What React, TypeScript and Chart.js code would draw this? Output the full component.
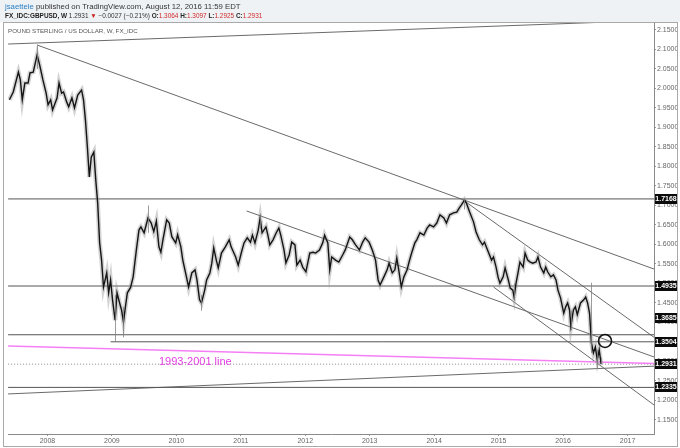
import React, { useEffect, useRef } from "react";
import { Chart, registerables } from "chart.js";
Chart.register(...registerables);

// Weekly GBPUSD closes (sampled), decimal year → price
const priceYears = [
  2007.41, 2007.47, 2007.55, 2007.58, 2007.61, 2007.65, 2007.70, 2007.73, 2007.78, 2007.84,
  2007.88, 2007.93, 2007.98, 2008.01, 2008.05, 2008.08, 2008.15, 2008.18, 2008.22, 2008.25,
  2008.30, 2008.33, 2008.38, 2008.42, 2008.47, 2008.53, 2008.56, 2008.59, 2008.62, 2008.65,
  2008.68, 2008.72, 2008.75, 2008.78, 2008.81, 2008.84, 2008.87, 2008.92, 2008.95, 2008.98,
  2009.01, 2009.05, 2009.08, 2009.12, 2009.15, 2009.18, 2009.21, 2009.24, 2009.29, 2009.33,
  2009.38, 2009.42, 2009.45, 2009.50, 2009.56, 2009.61, 2009.65, 2009.69, 2009.73, 2009.76,
  2009.79, 2009.85, 2009.89, 2009.93, 2009.99, 2010.02, 2010.07, 2010.10, 2010.15, 2010.19,
  2010.24, 2010.29, 2010.32, 2010.36, 2010.39, 2010.44, 2010.47, 2010.52, 2010.55, 2010.58,
  2010.62, 2010.65, 2010.70, 2010.76, 2010.82, 2010.85, 2010.92, 2010.96, 2011.01, 2011.05,
  2011.10, 2011.15, 2011.18, 2011.22, 2011.27, 2011.30, 2011.33, 2011.39, 2011.42, 2011.45,
  2011.50, 2011.55, 2011.59, 2011.62, 2011.67, 2011.70, 2011.75, 2011.79, 2011.84, 2011.87,
  2011.92, 2011.96, 2012.01, 2012.07, 2012.12, 2012.16, 2012.22, 2012.27, 2012.30, 2012.35,
  2012.38, 2012.41, 2012.47, 2012.52, 2012.58, 2012.62, 2012.69, 2012.73, 2012.78, 2012.84,
  2012.89, 2012.93, 2012.99, 2013.04, 2013.09, 2013.13, 2013.16, 2013.22, 2013.27, 2013.30,
  2013.35, 2013.39, 2013.42, 2013.45, 2013.49, 2013.53, 2013.58, 2013.61, 2013.65, 2013.70,
  2013.73, 2013.78, 2013.84, 2013.89, 2013.93, 2013.99, 2014.04, 2014.09, 2014.15, 2014.19,
  2014.24, 2014.30, 2014.35, 2014.39, 2014.42, 2014.47, 2014.50, 2014.55, 2014.61, 2014.65,
  2014.70, 2014.75, 2014.78, 2014.84, 2014.89, 2014.92, 2014.96, 2014.99, 2015.02, 2015.07,
  2015.10, 2015.15, 2015.18, 2015.22, 2015.24, 2015.27, 2015.30, 2015.33, 2015.38, 2015.41,
  2015.45, 2015.49, 2015.53, 2015.58, 2015.61, 2015.65, 2015.70, 2015.73, 2015.76, 2015.81,
  2015.85, 2015.89, 2015.92, 2015.96, 2016.01, 2016.04, 2016.07, 2016.10, 2016.12, 2016.16,
  2016.19, 2016.22, 2016.27, 2016.32, 2016.35, 2016.38, 2016.41, 2016.44, 2016.47, 2016.50,
  2016.53, 2016.56, 2016.59,
];
const priceCloses = [
  1.971, 1.991, 2.042, 2.022, 1.971, 2.014, 2.014, 2.040, 2.042, 2.086,
  2.060, 2.022, 1.988, 1.958, 1.971, 1.945, 1.976, 2.014, 1.988, 1.991,
  1.965, 1.953, 1.976, 1.950, 1.983, 1.996, 1.971, 1.919, 1.850, 1.773,
  1.824, 1.837, 1.765, 1.706, 1.604, 1.560, 1.491, 1.527, 1.476, 1.509,
  1.458, 1.406, 1.476, 1.450, 1.432, 1.401, 1.440, 1.476, 1.490, 1.517,
  1.586, 1.637, 1.645, 1.630, 1.668, 1.655, 1.633, 1.660, 1.594, 1.580,
  1.610, 1.663, 1.655, 1.620, 1.604, 1.625, 1.594, 1.560, 1.522, 1.491,
  1.527, 1.535, 1.509, 1.458, 1.450, 1.483, 1.509, 1.527, 1.552, 1.591,
  1.560, 1.540, 1.578, 1.594, 1.612, 1.594, 1.568, 1.547, 1.580, 1.604,
  1.617, 1.606, 1.624, 1.604, 1.637, 1.668, 1.630, 1.645, 1.624, 1.599,
  1.612, 1.630, 1.642, 1.624, 1.586, 1.553, 1.573, 1.606, 1.599, 1.547,
  1.560, 1.542, 1.530, 1.578, 1.580, 1.578, 1.586, 1.604, 1.624, 1.604,
  1.535, 1.568, 1.560, 1.555, 1.573, 1.586, 1.619, 1.612, 1.599, 1.586,
  1.606, 1.617, 1.606, 1.586, 1.560, 1.509, 1.496, 1.517, 1.535, 1.552,
  1.527, 1.535, 1.565, 1.535, 1.491, 1.517, 1.535, 1.555, 1.578, 1.604,
  1.612, 1.630, 1.624, 1.642, 1.650, 1.645, 1.655, 1.676, 1.668, 1.655,
  1.676, 1.681, 1.683, 1.694, 1.701, 1.714, 1.706, 1.683, 1.658, 1.632,
  1.612, 1.599, 1.606, 1.581, 1.560, 1.568, 1.542, 1.517, 1.501, 1.517,
  1.540, 1.509, 1.488, 1.483, 1.465, 1.501, 1.527, 1.555, 1.542, 1.578,
  1.560, 1.555, 1.552, 1.555, 1.568, 1.542, 1.527, 1.542, 1.530, 1.517,
  1.522, 1.509, 1.483, 1.463, 1.424, 1.440, 1.450, 1.432, 1.390, 1.432,
  1.440, 1.420, 1.450, 1.458, 1.465, 1.450, 1.424, 1.347, 1.322, 1.337,
  1.304, 1.330, 1.293,
];

// Notable candle wicks
const wickYears = [2007.84, 2009.05, 2009.18, 2009.56, 2010.39, 2011.30, 2014.47, 2015.24, 2016.12, 2016.44, 2016.53, 2016.59];
const wickLows = [2.05, 1.352, 1.362, 1.63, 1.43, 1.64, 1.69, 1.458, 1.38, 1.322, 1.283, 1.2925];
const wickHighs = [2.112, 1.47, 1.44, 1.70, 1.47, 1.675, 1.7168, 1.50, 1.43, 1.502, 1.33, 1.3097];

// Axis ticks
const yearTicks = [2008, 2009, 2010, 2011, 2012, 2013, 2014, 2015, 2016, 2017];
const priceTicks = [1.15, 1.2, 1.25, 1.3, 1.35, 1.4, 1.45, 1.5, 1.55, 1.6, 1.65, 1.7, 1.75, 1.8, 1.85, 1.9, 1.95, 2.0, 2.05, 2.1, 2.15];

// Horizontal levels
const levelValues = [1.7168, 1.4935, 1.3685, 1.3504, 1.2931, 1.2335];
const levelStartYears = [2007.39, 2007.39, 2007.39, 2008.98, 2007.39, 2007.39];
const levelLabels = ["1.7168", "1.4935", "1.3685", "1.3504", "1.2931", "1.2335"];

// Trend lines (start/end)
const trendX1 = [2007.39, 2007.84, 2014.45, 2011.09, 2014.92, 2007.39];
const trendY1 = [2.114, 2.1115, 1.714, 1.686, 1.491, 1.2167];
const trendX2 = [2016.55, 2017.41, 2017.41, 2017.41, 2017.41, 2017.41];
const trendY2 = [2.1695, 1.537, 1.362, 1.3115, 1.1885, 1.288];

// 1993-2001 line
const pinkX = [2007.39, 2017.41];
const pinkY = [1.3397, 1.295];
const pinkLabel = "1993-2001 line";
const pinkLabelYear = 2009.73;
const pinkLabelPrice = 1.2987;

// Marked circle
const circleYear = 2016.65;
const circlePrice = 1.3526;

const X_MIN = 2007.39;
const X_MAX = 2017.41;
const Y_MIN = 1.114;
const Y_MAX = 2.1705;

const FONT = "'Liberation Sans', Arial, sans-serif";

function drawRuns(ctx: CanvasRenderingContext2D, runs: { t: string; c: string; b?: boolean }[], x: number, y: number, size: number) {
  let cx = x;
  for (const r of runs) {
    ctx.font = `${r.b ? "bold " : ""}${size}px ${FONT}`;
    ctx.fillStyle = r.c;
    ctx.fillText(r.t, cx, y);
    cx += ctx.measureText(r.t).width;
  }
}
function runsWidth(ctx: CanvasRenderingContext2D, runs: { t: string; c: string; b?: boolean }[], size: number) {
  let w = 0;
  for (const r of runs) {
    ctx.font = `${r.b ? "bold " : ""}${size}px ${FONT}`;
    w += ctx.measureText(r.t).width;
  }
  return w;
}

const decorPlugin = {
  id: "decor",
  beforeDraw(chart: any) {
    const ctx = chart.ctx as CanvasRenderingContext2D;
    ctx.save();
    ctx.fillStyle = "#ffffff";
    ctx.fillRect(0, 0, chart.width, chart.height);
    ctx.fillStyle = "#eff2f5";
    ctx.fillRect(0, 0, chart.width, 22);
    ctx.restore();
  },
  afterDatasetsDraw(chart: any) {
    const ctx = chart.ctx as CanvasRenderingContext2D;
    const xs = chart.scales.x;
    const ys = chart.scales.y;
    const ca = chart.chartArea;
    ctx.save();
    ctx.beginPath();
    ctx.rect(ca.left, ca.top, ca.right - ca.left, ca.bottom - ca.top);
    ctx.clip();
    // wicks
    ctx.strokeStyle = "rgba(130,130,130,0.8)";
    ctx.lineWidth = 1;
    for (let i = 0; i < wickYears.length; i++) {
      const x = Math.round(xs.getPixelForValue(wickYears[i])) + 0.5;
      ctx.beginPath();
      ctx.moveTo(x, ys.getPixelForValue(wickLows[i]));
      ctx.lineTo(x, ys.getPixelForValue(wickHighs[i]));
      ctx.stroke();
    }
    // pink label
    ctx.fillStyle = "#e23ee2";
    ctx.font = `11px ${FONT}`;
    ctx.textBaseline = "middle";
    ctx.textAlign = "left";
    ctx.fillText(pinkLabel, xs.getPixelForValue(pinkLabelYear), ys.getPixelForValue(pinkLabelPrice));
    ctx.restore();
  },
  afterDraw(chart: any) {
    const ctx = chart.ctx as CanvasRenderingContext2D;
    const ys = chart.scales.y;
    const ca = chart.chartArea;
    ctx.save();
    // level boxes
    const shifts = [0, 0, -17, 0, 0, 0];
    ctx.font = `bold 7px ${FONT}`;
    ctx.textBaseline = "middle";
    ctx.textAlign = "center";
    for (let i = 0; i < levelValues.length; i++) {
      const y = Math.round(ys.getPixelForValue(levelValues[i])) + shifts[i];
      ctx.fillStyle = "#0b0b0b";
      ctx.fillRect(ca.right + 1, y - 5, 22, 10);
      ctx.fillStyle = "#ffffff";
      ctx.fillText(levelLabels[i], ca.right + 12, y + 0.5);
    }
    // frame
    ctx.strokeStyle = "#a9a9a9";
    ctx.lineWidth = 1;
    ctx.strokeRect(3.5, 22.5, 674, 424);
    // header
    ctx.textAlign = "left";
    ctx.textBaseline = "middle";
    const line1 = [
      { t: "jsaettele", c: "#2b7fc4" },
      { t: " published on TradingView.com, August 12, 2016 11:59 EDT", c: "#333333" },
    ];
    const s1 = 10 * (236 / runsWidth(ctx, line1, 10));
    drawRuns(ctx, line1, 5, 6.5, s1);
    const red = "#d22a2a";
    const line2 = [
      { t: "FX_IDC:GBPUSD, W", c: "#222222", b: true },
      { t: " 1.2931 ", c: "#333333" },
      { t: "▼", c: "#c81e1e" },
      { t: " \u22120.0027 (\u22120.21%) ", c: "#333333" },
      { t: "O:", c: "#222222", b: true },
      { t: "1.3064", c: red },
      { t: " H:", c: "#222222", b: true },
      { t: "1.3097", c: red },
      { t: " L:", c: "#222222", b: true },
      { t: "1.2925", c: red },
      { t: " C:", c: "#222222", b: true },
      { t: "1.2931", c: red },
    ];
    const s2 = 10 * (258 / runsWidth(ctx, line2, 10));
    drawRuns(ctx, line2, 5, 16, s2);
    const title = [{ t: "POUND STERLING / US DOLLAR, W, FX_IDC", c: "#555555" }];
    const s3 = 10 * (130 / runsWidth(ctx, title, 10));
    drawRuns(ctx, title, 8, 31, s3);
    ctx.restore();
  },
};

export default function App() {
  const ref = useRef<HTMLCanvasElement>(null);
  useEffect(() => {
    document.body.style.margin = "0";
    const canvas = ref.current!;
    const pricePts = priceYears.map((x, i) => ({ x, y: priceCloses[i] }));
    const datasets: any[] = [];
    datasets.push({
      data: pricePts,
      borderColor: "#141414",
      borderWidth: 1.4,
      pointRadius: 0,
      tension: 0,
      order: 1,
    });
    datasets.push({
      data: pricePts,
      borderColor: "rgba(150,150,150,0.42)",
      borderWidth: 4.5,
      pointRadius: 0,
      tension: 0,
      order: 2,
    });
    for (let i = 0; i < levelValues.length; i++) {
      const dotted = levelValues[i] === 1.2931;
      datasets.push({
        data: [
          { x: levelStartYears[i], y: levelValues[i] },
          { x: X_MAX, y: levelValues[i] },
        ],
        borderColor: dotted ? "#8c8c8c" : "#555555",
        borderDash: dotted ? [1, 2] : [],
        borderWidth: 1,
        pointRadius: 0,
        order: 4,
      });
    }
    for (let i = 0; i < trendX1.length; i++) {
      datasets.push({
        data: [
          { x: trendX1[i], y: trendY1[i] },
          { x: trendX2[i], y: trendY2[i] },
        ],
        borderColor: "#6a6a6a",
        borderWidth: 1,
        pointRadius: 0,
        order: 4,
      });
    }
    datasets.push({
      data: pinkX.map((x, i) => ({ x, y: pinkY[i] })),
      borderColor: "#f57ff5",
      borderWidth: 1.5,
      pointRadius: 0,
      order: 3,
    });
    datasets.push({
      data: [{ x: circleYear, y: circlePrice }],
      showLine: false,
      pointRadius: 6.5,
      pointStyle: "circle",
      pointBorderColor: "#111111",
      pointBorderWidth: 1.6,
      pointBackgroundColor: "rgba(0,0,0,0)",
      order: 0,
    });

    const chart = new Chart(canvas, {
      type: "line",
      data: { datasets },
      options: {
        animation: false,
        responsive: false,
        devicePixelRatio: 1,
        parsing: true,
        layout: { padding: { left: 3, top: 22, right: 3, bottom: 2 } },
        plugins: { legend: { display: false }, tooltip: { enabled: false } },
        scales: {
          x: {
            type: "linear",
            min: X_MIN,
            max: X_MAX,
            afterBuildTicks: (s: any) => {
              s.ticks = yearTicks.map((v) => ({ value: v }));
            },
            afterFit: (s: any) => {
              s.height = 12;
            },
            ticks: {
              callback: (v: any) => String(v),
              font: { size: 7, family: FONT },
              color: "#666666",
              padding: 1,
              maxRotation: 0,
              autoSkip: false,
            },
            grid: { drawOnChartArea: false, drawTicks: true, tickLength: 2, color: "#999999" },
            border: { display: true, color: "#8a8a8a" },
          },
          y: {
            type: "linear",
            position: "right",
            min: Y_MIN,
            max: Y_MAX,
            afterBuildTicks: (s: any) => {
              s.ticks = priceTicks.map((v) => ({ value: v }));
            },
            afterFit: (s: any) => {
              s.width = 23;
            },
            ticks: {
              callback: (v: any) => Number(v).toFixed(4),
              font: { size: 7, family: FONT },
              color: "#666666",
              padding: 1,
              autoSkip: false,
            },
            grid: { drawOnChartArea: false, drawTicks: true, tickLength: 2, color: "#999999" },
            border: { display: true, color: "#8a8a8a" },
          },
        },
      },
      plugins: [decorPlugin],
    } as any);
    return () => chart.destroy();
  }, []);
  return <canvas ref={ref} width={680} height={448} style={{ display: "block", width: 680, height: 448 }} />;
}
